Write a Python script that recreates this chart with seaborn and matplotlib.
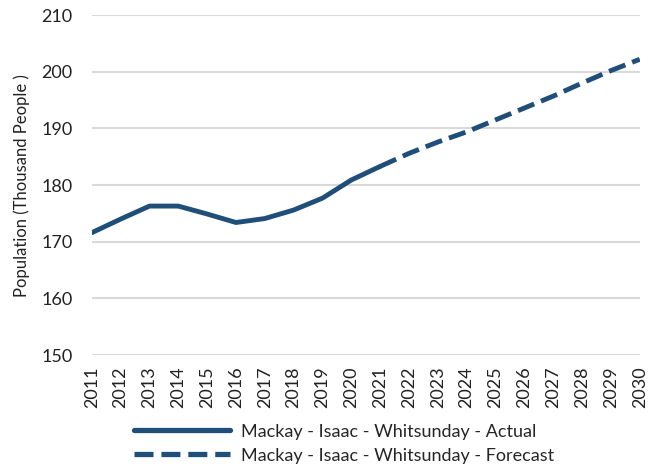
import numpy as np
import pandas as pd
import seaborn as sns
import matplotlib.pyplot as plt

years_actual = [2011, 2012, 2013, 2014, 2015, 2016, 2017, 2018, 2019, 2020, 2021]
pop_actual = [171.6, 174.0, 176.3, 176.3, 174.9, 173.4, 174.1, 175.6, 177.7, 180.9, 183.3]

years_forecast = [2021, 2022, 2023, 2024, 2025, 2026, 2027, 2028, 2029, 2030]
pop_forecast = [183.3, 185.6, 187.6, 189.4, 191.5, 193.6, 195.7, 198.0, 200.2, 202.2]

label_actual = 'Mackay - Isaac - Whitsunday - Actual'
label_forecast = 'Mackay - Isaac - Whitsunday - Forecast'

df = pd.concat([
    pd.DataFrame({'year': years_actual, 'pop': pop_actual, 'series': label_actual}),
    pd.DataFrame({'year': years_forecast, 'pop': pop_forecast, 'series': label_forecast}),
])

sns.set_style('white')
plt.rcParams['font.family'] = ['Lato', 'DejaVu Sans']

color = '#1f4e79'
fig, ax = plt.subplots(figsize=(6.65, 4.71), dpi=100)
fig.subplots_adjust(left=0.138, right=0.962, top=0.968, bottom=0.246)

sns.lineplot(data=df, x='year', y='pop', hue='series', style='series',
             palette=[color, color], dashes=[(None, None), (3.6, 1.5)],
             linewidth=3.5, ax=ax, legend=True)

ax.set_xlim(2011, 2030)
ax.set_ylim(150, 210)
ax.set_yticks(np.arange(150, 211, 10))
ax.set_xticks(years_actual + years_forecast[1:])
ax.set_xticklabels([str(y) for y in years_actual + years_forecast[1:]], rotation=90)
ax.tick_params(axis='both', labelsize=13, colors='#222222', length=0)
ax.tick_params(axis='y', pad=14)
ax.tick_params(axis='x', pad=8)
ax.yaxis.grid(True, color='#d9d9d9', linewidth=1.5)
ax.set_axisbelow(True)
for s in ax.spines.values():
    s.set_visible(False)
ax.set_xlabel('')
ax.set_ylabel('Population (Thousand People )', fontsize=12, color='#222222', labelpad=8)

handles, labels = ax.get_legend_handles_labels()
ax.legend(handles, labels, loc='upper center', bbox_to_anchor=(0.46, -0.18),
          frameon=False, fontsize=13, handlelength=5.3, borderaxespad=0,
          labelspacing=0.45, handletextpad=0.6)
for line in ax.get_legend().get_lines():
    line.set_linewidth(3.8)

plt.savefig('out.png', dpi=100)
